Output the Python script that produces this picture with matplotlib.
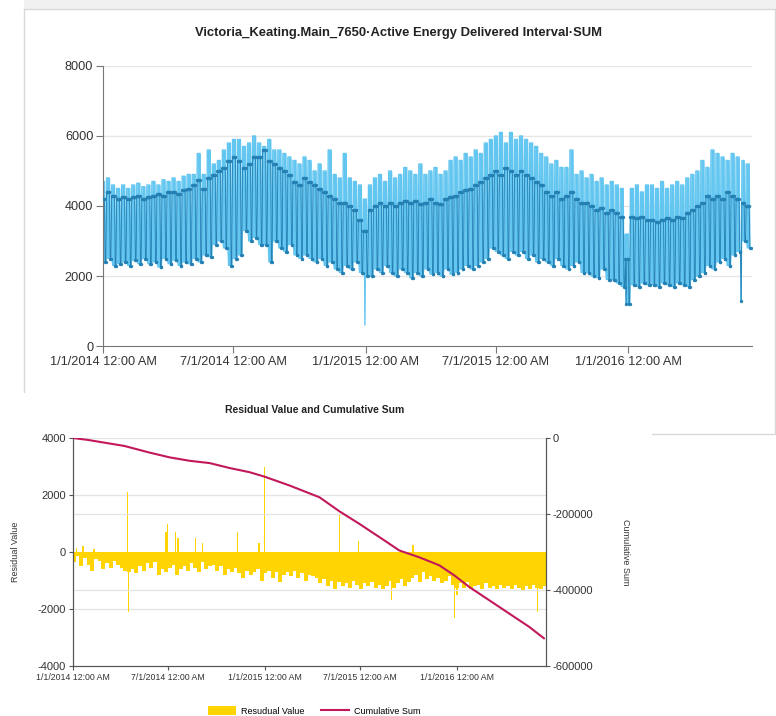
import matplotlib
matplotlib.use("Agg")
import matplotlib.pyplot as plt
import matplotlib.dates as mdates
from matplotlib.patches import Rectangle
from matplotlib.lines import Line2D
import numpy as np
import pandas as pd

# ---------------- data: top chart (weekly readings, weeks start 2013-12-30) -------------
week_start = "2013-12-30"
week_peak = [4700, 4800, 4600, 4500, 4600, 4500, 4600, 4650, 4550, 4600, 4700, 4600, 4750, 4700,
             4800, 4700, 4850, 4900, 4900, 5500, 4900, 5600, 5200, 5300, 5600, 5800, 5900,
             5900, 5700, 5800, 6000, 5800, 5700, 5900, 5600, 5600, 5500, 5400, 5300, 5200,
             5400, 5300, 5000, 5200, 5000, 5600, 4900, 4800, 5500, 4800, 4700, 4600, 4200,
             4600, 4800, 4900, 4700, 5000, 4800, 4900, 5100, 5000, 4900, 5200, 4900, 5000,
             5100, 4900, 5000, 5300, 5400, 5300, 5500, 5400, 5600, 5500, 5800, 5900, 6000,
             6100, 5800, 6100, 5900, 6000, 5900, 5800, 5700, 5500, 5400, 5200, 5300, 5100,
             5100, 5600, 4900, 5000, 4800, 4900, 4700, 4800, 4600, 4700, 4600, 4500, 3200,
             4500, 4600, 4400, 4600, 4600, 4500, 4700, 4500, 4600, 4700, 4600, 4800, 4900,
             5000, 5300, 5100, 5600, 5500, 5400, 5300, 5500, 5400, 5300, 5200]
week_level = [4200, 4400, 4300, 4200, 4250, 4200, 4250, 4300, 4200, 4250, 4300, 4350, 4300, 4400,
              4400, 4350, 4450, 4500, 4600, 4750, 4500, 4800, 4900, 5000, 5100, 5300, 5400,
              5300, 5100, 5200, 5400, 5400, 5600, 5300, 5200, 5100, 5000, 4900, 4700, 4600,
              4800, 4700, 4600, 4500, 4400, 4300, 4200, 4100, 4100, 4000, 3900, 3600, 3300,
              3900, 4000, 4100, 4000, 4100, 4000, 4100, 4150, 4100, 4150, 4050, 4100, 4200,
              4100, 4050, 4200, 4250, 4300, 4400, 4450, 4500, 4600, 4700, 4800, 4900, 5000,
              4900, 5100, 5000, 4900, 5000, 4900, 4800, 4700, 4600, 4400, 4300, 4400, 4200,
              4300, 4400, 4200, 4100, 4100, 4000, 3900, 3950, 3800, 3900, 3800, 3700, 2500,
              3700, 3650, 3700, 3600, 3600, 3550, 3600, 3650, 3600, 3700, 3650, 3800, 3900,
              4000, 4100, 4300, 4200, 4300, 4200, 4400, 4300, 4200, 4100, 4000]
week_low = [2400, 2500, 2300, 2350, 2400, 2300, 2450, 2350, 2500, 2350, 2400, 2250, 2500, 2350,
            2450, 2300, 2400, 2350, 2500, 2400, 2600, 2550, 2900, 3000, 2800, 2300, 2500,
            2600, 3300, 3000, 3100, 2900, 2900, 2400, 3000, 2800, 2700, 2900, 2600, 2500,
            2600, 2500, 2400, 2500, 2300, 2400, 2200, 2100, 2300, 2200, 2400, 2100, 2000,
            2000, 2200, 2100, 2300, 2100, 2000, 2200, 2100, 1950, 2100, 2000, 2200, 2050,
            2100, 2000, 2200, 2050, 2100, 2200, 2300, 2200, 2300, 2400, 2500, 2800, 2700,
            2600, 2500, 2700, 2600, 2700, 2500, 2600, 2400, 2500, 2400, 2300, 2500, 2300,
            2200, 2300, 2400, 2100, 2100, 2000, 1950, 2200, 1900, 1900, 1800, 1700, 1200,
            1750, 1700, 1800, 1750, 1750, 1700, 1800, 1750, 1700, 1800, 1750, 1700, 1900,
            2000, 2100, 2300, 2200, 2400, 2500, 2300, 2600, 2700, 3000, 2800]
light_outliers = {"2014-12-31": 600}
dark_outliers = {"2015-12-29": 1200, "2016-06-06": 1300}

top_title = "Victoria_Keating.Main_7650·Active Energy Delivered Interval·SUM"
top_yticks = [0, 2000, 4000, 6000, 8000]
top_xticks = ["2014-01-01", "2014-07-01", "2015-01-01", "2015-07-01", "2016-01-01"]
top_xlabels = ["1/1/2014 12:00 AM", "7/1/2014 12:00 AM", "1/1/2015 12:00 AM",
               "7/1/2015 12:00 AM", "1/1/2016 12:00 AM"]

# ---------------- data: bottom chart ----------------
resid_week = [-350, -150, -500, -200, -450, -650, -250, -300, -600, -400, -550, -300, -450,
              -550, -650, -700, -600, -750, -500, -650, -400, -550, -350, -800, -600, -700,
              -550, -450, -800, -600, -500, -650, -400, -550, -700, -350, -600, -500, -450,
              -650, -500, -800, -600, -700, -550, -750, -900, -650, -800, -700, -600, -1000,
              -750,
              -650, -900, -700, -1050, -800, -700, -850, -650, -900, -750, -1000, -800, -850,
              -900, -1100, -950, -1200, -1000, -1300, -1050, -1200, -1100, -1250, -1000, -1150, -1300,
              -1100, -1200, -1050, -1250, -1150, -1300, -1200, -1000, -1250, -1100, -950, -1200, -1050,
              -900, -800, -1050, -700, -950, -850, -1000, -900, -1100, -1000, -850, -1150, -1250,
              -1100, -1250, -1050, -1300, -1200, -1150, -1300, -1100, -1250, -1200, -1300, -1150, -1250,
              -1200, -1300, -1150, -1250, -1350, -1200, -1300, -1150, -1250, -1300, -1200]
spike_dates = ["2014-01-08", "2014-01-20", "2014-02-10", "2014-04-15", "2014-04-16",
               "2014-06-27", "2014-06-30", "2014-07-15", "2014-07-20", "2014-08-22",
               "2014-09-05", "2014-11-10", "2014-12-21", "2014-12-31", "2015-05-23",
               "2015-06-28", "2015-08-30", "2015-10-10", "2015-12-28", "2016-01-02",
               "2016-06-03"]
spike_values = [150, 200, 100, 2100, -2100, 700, 1000, 700, 500, 500, 300, 700, 300, 3000,
                1300, 400, -1700, 250, -2300, -1500, -2100]
cum_dates = ["2014-01-01", "2014-01-29", "2014-04-09", "2014-05-27", "2014-07-04",
             "2014-08-11", "2014-09-18", "2014-10-26", "2014-12-03", "2015-01-01",
             "2015-02-17", "2015-04-15", "2015-05-23", "2015-06-30", "2015-08-17",
             "2015-09-14", "2015-10-22", "2015-11-29", "2015-12-28", "2016-01-25",
             "2016-03-03", "2016-04-10", "2016-05-18", "2016-06-15"]
cum_values = [0, -5000, -21000, -38500, -51000, -60000, -66000, -79000, -90000, -102000,
              -125000, -156000, -193000, -226000, -270000, -296000, -314000, -335000,
              -362000, -392000, -427000, -462000, -497000, -527000]
bot_title = "Residual Value and Cumulative Sum"
left_ticks = [-4000, -2000, 0, 2000, 4000]
right_ticks = [-600000, -400000, -200000, 0]

# ---------------- build daily series from weekly readings ----------------
starts = pd.date_range(week_start, periods=len(week_peak), freq="7D")
days, light, dark, lowline = [], [], [], []
for i, s in enumerate(starts):
    for d in range(7):
        days.append(s + pd.Timedelta(days=d))
        light.append(week_peak[i] if d < 5 else week_low[i])
        dark.append(week_level[i] if d < 5 else week_low[i])
        lowline.append(week_low[i])
ser = pd.DataFrame({"light": light, "dark": dark, "low": lowline}, index=pd.DatetimeIndex(days))
for k, v in light_outliers.items():
    ser.loc[pd.Timestamp(k), "light"] = v
for k, v in dark_outliers.items():
    ser.loc[pd.Timestamp(k), "dark"] = v
    ser.loc[pd.Timestamp(k), "light"] = min(ser.loc[pd.Timestamp(k), "light"], v)
ser = ser[(ser.index >= "2014-01-01") & (ser.index <= "2016-06-19")]

# ---------------- figure ----------------
W, H = 776, 716
fig = plt.figure(figsize=(W / 100, H / 100), dpi=100)
fig.patch.set_facecolor("white")

def fx(px):
    return px / W

def fy(py):
    return 1 - py / H

NARROW = ["Liberation Sans"]
REG = ["Liberation Sans"]

# panel decorations
fig.add_artist(Rectangle((fx(24), fy(9)), fx(776) - fx(24), 9 / H, transform=fig.transFigure,
                         facecolor="#f1f1f1", edgecolor="none", zorder=-3))
fig.add_artist(Rectangle((fx(24), fy(434)), fx(775) - fx(24), (434 - 9) / H,
                         transform=fig.transFigure, facecolor="white", edgecolor="#d8d8d8",
                         lw=1.0, zorder=-2))
fig.add_artist(Rectangle((0, 0), fx(652), (H - 393) / H, transform=fig.transFigure,
                         facecolor="white", edgecolor="none", zorder=-1))

# ---------------- top chart ----------------
ax = fig.add_axes([fx(103), fy(346), fx(752) - fx(103), fy(66) - fy(346)])
ax.set_facecolor("none")
light_c = "#62c6f0"
dark_c = "#2580b4"
ax.fill_between(ser.index, ser["low"], ser["light"], color=light_c, lw=0, zorder=2)
ax.plot(ser.index, ser["light"], color=light_c, lw=1.0, zorder=2)
ax.plot(ser.index, ser["dark"], color=dark_c, lw=0.6, marker="o", ms=2.4, mew=0, zorder=3)
ax.set_ylim(0, 8000)
ax.set_xlim(pd.Timestamp("2014-01-01"), pd.Timestamp("2016-06-21"))
ax.set_yticks(top_yticks)
ax.set_yticklabels([str(v) for v in top_yticks], family=NARROW, fontsize=9.2, color="#333333")
ax.set_xticks([pd.Timestamp(t) for t in top_xticks])
ax.set_xticklabels(top_xlabels, family=NARROW, fontsize=9.2, color="#333333")
for y in [2000, 4000, 6000, 8000]:
    ax.axhline(y, color="#e6e6e6", lw=1, zorder=1)
for s in ["top", "right"]:
    ax.spines[s].set_visible(False)
ax.spines["left"].set_color("#777777")
ax.spines["bottom"].set_color("#777777")
ax.tick_params(axis="both", length=5, color="#777777", pad=2)
fig.text(fx(399), fy(33), top_title, ha="center", va="center", family=NARROW,
         fontsize=9.4, fontweight="bold", color="#222222")

# ---------------- bottom chart ----------------
bx = fig.add_axes([fx(73), fy(666), fx(546) - fx(73), fy(438) - fy(666)])
yellow = "#ffd400"
bx.bar(starts, resid_week, width=7.6, align="edge", color=yellow, lw=0, zorder=2)
bx.bar([pd.Timestamp(d) for d in spike_dates], spike_values, width=2.6, color=yellow, lw=0,
       zorder=2)
bx.set_ylim(-4000, 4000)
bx.set_xlim(pd.Timestamp("2014-01-01"), pd.Timestamp("2016-06-19"))
bx.set_yticks(left_ticks)
bx.set_yticklabels([str(v) for v in left_ticks], family=REG, fontsize=8, color="#333333")
bx.set_xticks([pd.Timestamp(t) for t in top_xticks])
bx.set_xticklabels(top_xlabels, family=REG, fontsize=6.3, color="#333333")
for y in [2000, -2000, 4000]:
    bx.axhline(y, color="#e4e4e4", lw=0.9, zorder=1)
bx.spines["top"].set_visible(False)
for s in ["left", "bottom", "right"]:
    bx.spines[s].set_color("#555555")
bx.tick_params(axis="both", length=3, color="#555555", pad=2)
bx.set_ylabel("Residual Value", family=REG, fontsize=6.5, color="#333333", labelpad=13)

cx = bx.twinx()
cx.plot([pd.Timestamp(d) for d in cum_dates], cum_values, color="#c2185b", lw=1.5, zorder=3)
cx.set_ylim(-600000, 0)
cx.set_yticks(right_ticks)
cx.set_yticklabels([str(v) for v in right_ticks], family=REG, fontsize=8, color="#333333")
for y in [-200000, -400000]:
    cx.axhline(y, color="#e4e4e4", lw=0.9, zorder=1)
cx.spines["top"].set_visible(False)
for s in ["left", "bottom", "right"]:
    cx.spines[s].set_color("#555555")
cx.tick_params(axis="y", length=3, color="#555555", pad=2)
cx.set_ylabel("Cumulative Sum", family=REG, fontsize=6.5, color="#333333", rotation=270,
              labelpad=26)
cx.patch.set_visible(False)
bx.patch.set_visible(False)

fig.text(fx(315), fy(410), bot_title, ha="center", va="center", family=REG, fontsize=7.5,
         fontweight="bold", color="#222222")

handles = [Rectangle((0, 0), 1, 1, facecolor=yellow, edgecolor="none"),
           Line2D([0], [0], color="#c2185b", lw=1.5)]
fig.legend(handles, ["Resudual Value", "Cumulative Sum"], loc="center",
           bbox_to_anchor=(fx(314), fy(711)), ncol=2, frameon=False,
           prop={"family": REG, "size": 6.5}, handlelength=3.2, handleheight=1.0,
           columnspacing=1.8, handletextpad=0.5)

fig.savefig("out.png", dpi=100, facecolor="white")
